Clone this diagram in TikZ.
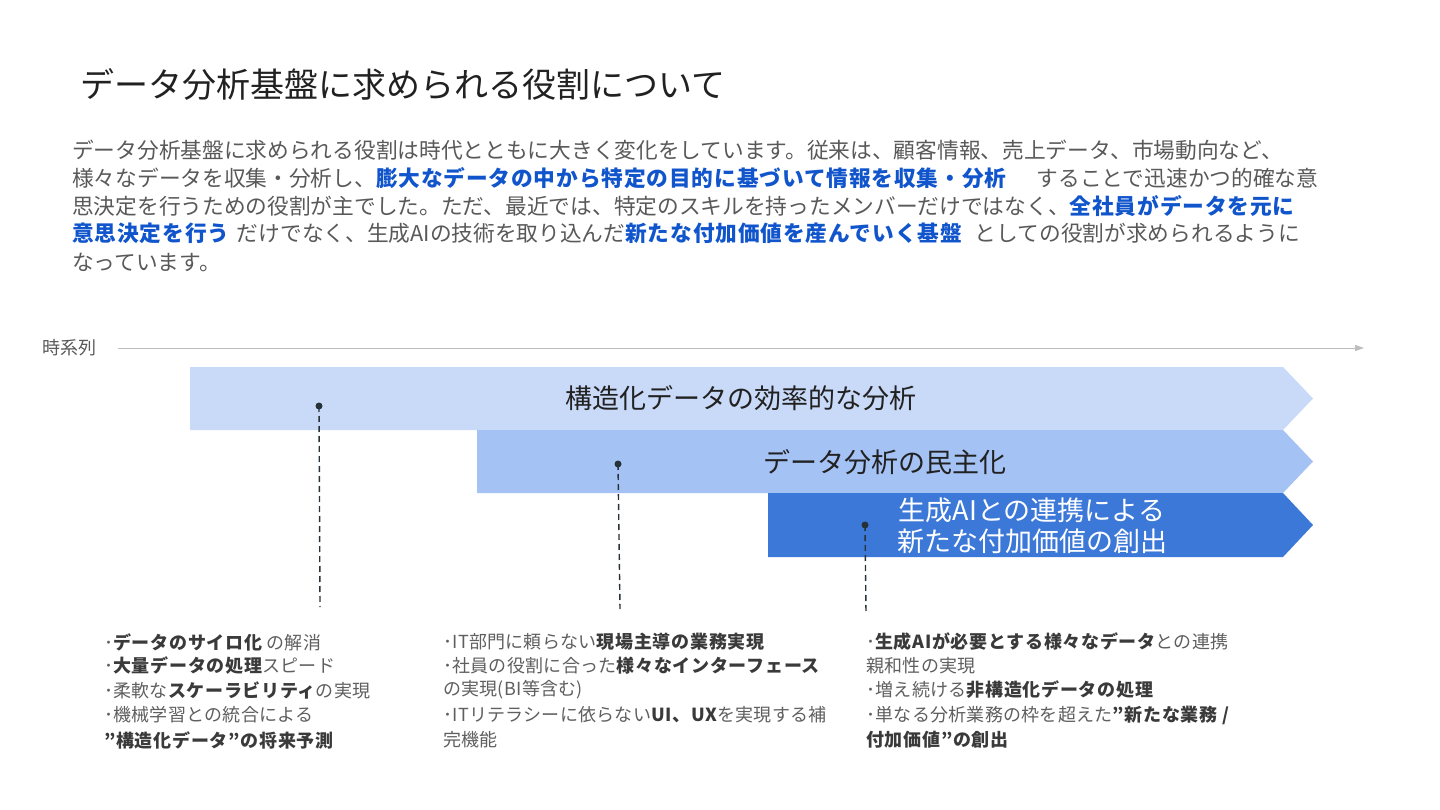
\documentclass[tikz,border=0pt]{standalone}
\usepackage{fontspec}
\setmainfont{Noto Sans CJK JP}
\usetikzlibrary{arrows.meta}
\definecolor{titlec}{HTML}{212121}
\definecolor{paragray}{HTML}{595959}
\definecolor{hiblue}{HTML}{1155CC}
\definecolor{listgray}{HTML}{5F5F5F}
\definecolor{listdark}{HTML}{3A3A3A}
\definecolor{axisc}{HTML}{BDBDBD}
\definecolor{bandA}{HTML}{C9DAF8}
\definecolor{bandB}{HTML}{A4C2F4}
\definecolor{bandC}{HTML}{3C78D8}
\definecolor{dotc}{HTML}{263238}
\newcommand{\hlb}[1]{{\bfseries\addfontfeature{LetterSpace=4}\color{hiblue}#1}}
\newcommand{\mybold}[1]{{\bfseries\addfontfeature{LetterSpace=4}\color{listdark}#1}}
\begin{document}
\begin{tikzpicture}[x=1pt,y=-1pt,
  titletext/.style={anchor=west, inner sep=0pt, font=\fontsize{34}{34}\selectfont, text=titlec},
  para/.style={anchor=west, inner sep=0pt, font=\fontsize{21.7}{21.7}\selectfont, text=paragray},
  blist/.style={anchor=west, inner sep=0pt, font=\fontsize{18}{18}\selectfont\addfontfeature{LetterSpace=1.5}, text=listgray},
  bandtext/.style={inner sep=0pt, font=\fontsize{27}{31}\selectfont, align=center},
  pindot/.style={circle, fill=dotc, inner sep=0pt, minimum size=7pt},
  leader/.style={draw=dotc, dash pattern=on 6pt off 4pt, line width=1.4pt},
  axisline/.style={draw=axisc, line width=1pt, -{Triangle[length=9pt,width=6pt]}}
]
\useasboundingbox[fill=white] (0,0) rectangle (1440,810);

% title
\node[titletext] (title) at (80,84) {データ分析基盤に求められる役割について};

% paragraph
\node[para] (p1) at (72,150) {データ分析基盤に求められる役割は時代とともに大きく変化をしています。従来は、顧客情報、売上データ、市場動向など、};
\node[para] (p2) at (72,178) {様々なデータを収集・分析し、\hlb{膨大なデータの中から特定の目的に基づいて情報を収集・分析}\hspace{1.4em}することで迅速かつ的確な意};
\node[para] (p3) at (72,206) {思決定を行うための役割が主でした。ただ、最近では、特定のスキルを持ったメンバーだけではなく、\hlb{全社員がデータを元に}};
\node[para] (p4) at (72,233) {\hlb{意思決定を行う}\hspace{0.35em}だけでなく、生成AIの技術を取り込んだ\hlb{新たな付加価値を産んでいく基盤}\hspace{0.6em}としての役割が求められるように};
\node[para] (p5) at (72,262) {なっています。};

% time axis
\node[anchor=west, inner sep=0pt, font=\fontsize{18}{18}\selectfont, text=paragray] (axlabel) at (42,348) {時系列};
\coordinate (axstart) at (118,348);
\coordinate (axend) at (1364,348);
\draw[axisline] (axstart) -- (axend);

% bands
\fill[bandA] (190,367) -- (1283,367) -- (1313,398.5) -- (1283,430) -- (190,430) -- cycle;
\fill[bandB] (477,430) -- (1283,430) -- (1313,461.5) -- (1283,493) -- (477,493) -- cycle;
\fill[bandC] (768,493) -- (1283,493) -- (1313,525) -- (1283,557) -- (768,557) -- cycle;

\node[bandtext, text=titlec] (bt1) at (741,398.5) {構造化データの効率的な分析};
\node[bandtext, text=titlec] (bt2) at (885,462) {データ分析の民主化};
\node[bandtext, text=white] (bt3) at (1032,525.5) {生成AIとの連携による\\新たな付加価値の創出};

% pins
\node[pindot] (d1) at (319,406) {};
\node[pindot] (d2) at (618,464) {};
\node[pindot] (d3) at (865,525) {};
\coordinate (e1) at (320,607);
\coordinate (e2) at (620,609);
\coordinate (e3) at (866,613);
\draw[leader] (d1.center) -- (e1);
\draw[leader] (d2.center) -- (e2);
\draw[leader] (d3.center) -- (e3);

% list 1
\node[blist] (a1) at (104,642) {･\mybold{データのサイロ化} の解消};
\node[blist] (a2) at (104,666) {･\mybold{大量データの処理}スピード};
\node[blist] (a3) at (104,690) {･柔軟な\mybold{スケーラビリティ}の実現};
\node[blist] (a4) at (104,715) {･機械学習との統合による};
\node[blist] (a5) at (104,740) {\mybold{”構造化データ”の将来予測}};

% list 2
\node[blist] (b1) at (443,642) {･IT部門に頼らない\mybold{現場主導の業務実現}};
\node[blist] (b2) at (443,666) {･社員の役割に合った\mybold{様々なインターフェース}};
\node[blist] (b3) at (443,690) {の実現(BI等含む)};
\node[blist] (b4) at (443,715) {･ITリテラシーに依らない\mybold{UI、UX}を実現する補};
\node[blist] (b5) at (443,740) {完機能};

% list 3
\node[blist] (c1) at (866,642) {･\mybold{生成AIが必要とする様々なデータ}との連携};
\node[blist] (c2) at (866,666) {親和性の実現};
\node[blist] (c3) at (866,690) {･増え続ける\mybold{非構造化データの処理}};
\node[blist] (c4) at (866,715) {･単なる分析業務の枠を超えた\mybold{”新たな業務 /}};
\node[blist] (c5) at (866,740) {\mybold{付加価値”の創出}};
\end{tikzpicture}
\end{document}
